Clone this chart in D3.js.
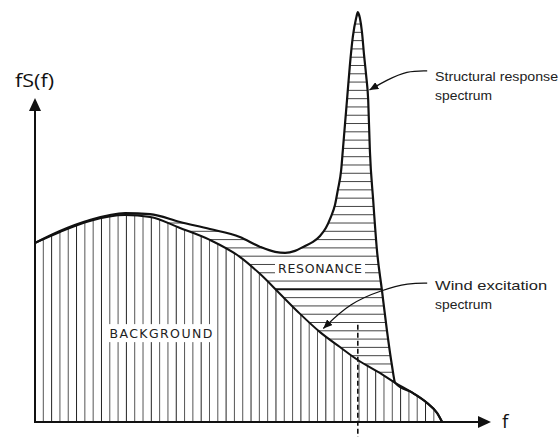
<!DOCTYPE html>
<html>
<head>
<meta charset="utf-8">
<script src="https://cdn.jsdelivr.net/npm/d3@7"></script>
<style>
  body { margin: 0; background: #fff; }
  svg { display: block; }
</style>
</head>
<body>
<div id="chart"></div>
<script>
// wind excitation spectrum (the "background" part)
const windFreq  = [0, 6.0, 13.2, 21.7, 27.7, 34.9, 42.1, 49.3, 54.2, 59.0, 63.8, 68.6, 73.4, 77.7, 83.0, 86.7, 91.0, 94.4, 96.8, 98.0];
const windValue = [54.0, 57.3, 60.6, 62.4, 61.8, 58.5, 54.9, 49.8, 44.6, 38.6, 32.6, 27.1, 22.6, 18.7, 14.8, 11.8, 8.7, 5.7, 2.7, 0];

// structural response spectrum (background + resonance)
const respFreq  = [0, 6.0, 13.2, 21.7, 27.7, 34.9, 42.1, 49.3, 54.2, 57.8, 60.2, 62.6, 65.0, 66.9, 68.6, 70.0, 71.2, 72.2, 72.9,
                   73.7, 74.1, 74.6, 75.1, 75.8, 76.5, 77.3, 77.7, 78.2, 78.7, 79.2, 79.7, 80.2, 80.6, 81.4, 82.3, 83.5, 84.7, 85.9, 86.7,
                   91.0, 94.4, 96.8, 98.0];
const respValue = [54.0, 57.6, 60.9, 63.0, 62.7, 60.3, 58.2, 55.8, 52.8, 51.3, 51.0, 51.6, 53.1, 54.3, 56.1, 58.5, 61.8, 65.4, 70.0,
                   76.0, 82.0, 89.6, 97.1, 107.7, 116.1, 121.8, 123.6, 121.8, 117.6, 110.7, 104.6, 97.1, 82.0, 66.9, 51.9, 39.8, 27.7, 17.2, 11.8,
                   8.7, 5.7, 2.7, 0];

const naturalFreq = 77.7;
const axisTitles = ["fS(f)", "f"];
const regionNames = ["BACKGROUND", "RESONANCE"];
const calloutText = [["Structural response", "spectrum"], ["Wind excitation", "spectrum"]];

const width = 559, height = 443;

const x = d3.scaleLinear().domain([0, 110]).range([35, 492]);
const y = d3.scaleLinear().domain([0, 98]).range([422, 97]);

const wind = windFreq.map((f, i) => [f, windValue[i]]);
const resp = respFreq.map((f, i) => [f, respValue[i]]);

const svg = d3.select("#chart").append("svg")
    .attr("width", width)
    .attr("height", height)
    .style("background", "#fff");

const defs = svg.append("defs");

const area = d3.area()
    .x(d => x(d[0]))
    .y0(y(0))
    .y1(d => y(d[1]))
    .curve(d3.curveMonotoneX);

const line = d3.line()
    .x(d => x(d[0]))
    .y(d => y(d[1]))
    .curve(d3.curveMonotoneX);

// area under the wind spectrum
defs.append("clipPath").attr("id", "bgClip")
    .append("path").attr("d", area(wind));

// area between the two spectra
const mask = defs.append("mask").attr("id", "resMask")
    .attr("maskUnits", "userSpaceOnUse")
    .attr("x", 0).attr("y", 0).attr("width", width).attr("height", height);
mask.append("path").attr("d", area(resp)).attr("fill", "#fff");
mask.append("path").attr("d", area(wind)).attr("fill", "#000");

// arrow heads
defs.append("marker").attr("id", "axisHead")
    .attr("viewBox", "0 -6 13 12")
    .attr("refX", 7).attr("refY", 0)
    .attr("markerWidth", 13).attr("markerHeight", 12)
    .attr("markerUnits", "userSpaceOnUse")
    .attr("orient", "auto")
    .append("path").attr("d", "M0,-6L13,0L0,6Z").attr("fill", "#111");

defs.append("marker").attr("id", "noteHead")
    .attr("viewBox", "0 -4 9 8")
    .attr("refX", 9).attr("refY", 0)
    .attr("markerWidth", 9).attr("markerHeight", 8)
    .attr("markerUnits", "userSpaceOnUse")
    .attr("orient", "auto")
    .append("path").attr("d", "M0,-4L9,0L0,4Z").attr("fill", "#111");

// vertical hatching: background
svg.append("g")
    .attr("clip-path", "url(#bgClip)")
    .selectAll("line")
    .data(d3.range(2, 98, 2))
    .join("line")
    .attr("x1", d => x(d)).attr("x2", d => x(d))
    .attr("y1", y(0)).attr("y2", y(70))
    .attr("stroke", (d, i) => i % 3 === 1 ? "#222" : "#555")
    .attr("stroke-width", 1);

// horizontal hatching: resonance
svg.append("g")
    .attr("mask", "url(#resMask)")
    .selectAll("line")
    .data(d3.range(2.5, 126, 2.5))
    .join("line")
    .attr("x1", x(0)).attr("x2", x(110))
    .attr("y1", d => y(d)).attr("y2", d => y(d))
    .attr("stroke", d => d === 40 ? "#111" : "#444")
    .attr("stroke-width", d => d === 40 ? 2 : 1);

// region labels, knocked out of the hatching
const labelPos = [[30.3, 26.8, 103], [68.6, 46.4, 84]];
const labels = svg.append("g")
    .selectAll("g")
    .data(regionNames)
    .join("g")
    .attr("transform", (d, i) => `translate(${x(labelPos[i][0])},${y(labelPos[i][1])})`);

labels.append("rect")
    .attr("x", (d, i) => -labelPos[i][2] / 2 - 3)
    .attr("y", -9)
    .attr("width", (d, i) => labelPos[i][2] + 6)
    .attr("height", 18)
    .attr("fill", "#fff");

labels.append("text")
    .attr("text-anchor", "middle")
    .attr("dy", "0.36em")
    .attr("textLength", (d, i) => labelPos[i][2])
    .attr("lengthAdjust", "spacing")
    .style("font", "12.5px 'DejaVu Sans', sans-serif")
    .style("fill", "#222")
    .text(d => d);

// spectra
svg.append("path")
    .attr("d", line(wind))
    .attr("fill", "none")
    .attr("stroke", "#111")
    .attr("stroke-width", 2);

svg.append("path")
    .attr("d", line(resp))
    .attr("fill", "none")
    .attr("stroke", "#111")
    .attr("stroke-width", 2.2)
    .attr("stroke-linejoin", "round");

// natural frequency marker
svg.append("line")
    .attr("x1", x(naturalFreq)).attr("x2", x(naturalFreq))
    .attr("y1", y(29.3)).attr("y2", y(-4.5))
    .attr("stroke", "#111")
    .attr("stroke-width", 1.6)
    .attr("stroke-dasharray", "5,3");

// axes
svg.append("line")
    .attr("x1", x(0)).attr("x2", x(0))
    .attr("y1", y(0) + 1).attr("y2", y(98) + 7)
    .attr("stroke", "#111").attr("stroke-width", 2)
    .attr("marker-end", "url(#axisHead)");

svg.append("line")
    .attr("x1", x(0) - 1).attr("x2", x(110) - 7)
    .attr("y1", y(0)).attr("y2", y(0))
    .attr("stroke", "#111").attr("stroke-width", 2.2)
    .attr("marker-end", "url(#axisHead)");

svg.append("text")
    .attr("x", 15).attr("y", 87)
    .attr("textLength", 39).attr("lengthAdjust", "spacingAndGlyphs")
    .style("font", "19px 'Open Sans', sans-serif")
    .style("fill", "#111")
    .text(axisTitles[0]);

svg.append("text")
    .attr("x", x(110) + 10).attr("y", y(0) + 6)
    .style("font", "19px 'Open Sans', sans-serif")
    .style("fill", "#111")
    .text(axisTitles[1]);

// callouts
const notes = [
    { path: [[94.4, 105.9], [89.5, 105.9], [84.7, 103.1], [80.5, 100.1]], base: [102.8, 97.1], len: [123, 57] },
    { path: [[94.4, 41.9], [90.0, 41.9], [83.5, 39.8], [75.8, 35.9], [69.4, 28.2]], base: [39.8, 34.1], len: [112, 57] }
];

const noteLine = d3.line()
    .x(d => x(d[0]))
    .y(d => y(d[1]))
    .curve(d3.curveBasis);

notes.forEach((n, i) => {
    svg.append("path")
        .attr("d", noteLine(n.path))
        .attr("fill", "none")
        .attr("stroke", "#111")
        .attr("stroke-width", 1.3)
        .attr("marker-end", "url(#noteHead)");

    calloutText[i].forEach((t, j) => {
        svg.append("text")
            .attr("x", x(96.3))
            .attr("y", y(n.base[j]))
            .attr("textLength", n.len[j])
            .attr("lengthAdjust", "spacingAndGlyphs")
            .style("font", "13px 'Liberation Sans', Arial, sans-serif")
            .style("fill", "#222")
            .text(t);
    });
});
</script>
</body>
</html>
